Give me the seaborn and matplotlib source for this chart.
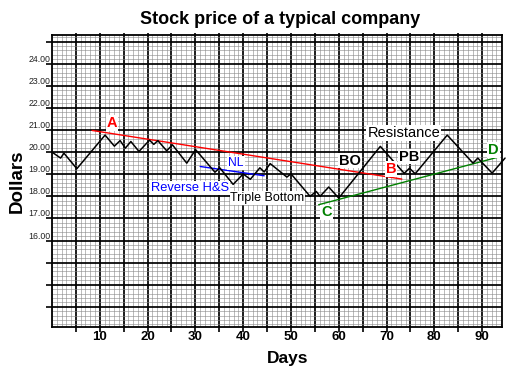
import matplotlib
matplotlib.use("Agg")
import matplotlib.pyplot as plt
from matplotlib.ticker import MultipleLocator
import seaborn as sns

# price path (day, dollars)
days = [0, 1.8, 2.5, 5.2, 11.1, 13.05, 14.25, 15.35, 16.5, 18.2, 20.4, 21.3, 22.15,
        24.0, 25.2, 28.2, 30.05, 34.1, 35.1, 37.9, 40.0, 41.5, 43.5, 44.4, 45.65,
        49.15, 50.0, 54.0, 55.3, 56.1, 57.9, 60.0, 68.7, 73.7, 74.8, 76.0, 82.7,
        88.1, 89.1, 92.1, 94.8]
price = [20.0, 19.73, 19.95, 19.25, 20.77, 20.27, 20.52, 20.18, 20.48, 20.03, 20.54, 20.35, 20.52,
         20.06, 20.33, 19.5, 20.11, 19.09, 19.29, 18.54, 19.01, 18.77, 19.29, 19.1, 19.48,
         18.87, 19.02, 18.0, 18.22, 18.0, 18.42, 17.92, 20.26, 19.04, 19.27, 19.02, 20.77,
         19.5, 19.73, 19.05, 19.73]

# trend lines
ab_days = [8.4, 73.2]
ab_price = [20.98, 18.78]
cd_days = [55.8, 93.5]
cd_price = [17.62, 19.78]
nl_days = [31.0, 44.4]
nl_price = [19.35, 18.93]

# annotations
note_text = ["A", "B", "C", "D", "BO", "PB", "Resistance", "Triple Bottom", "Reverse H&S", "NL"]
note_x = [12.5, 71.0, 57.4, 92.4, 62.4, 74.8, 73.6, 45.1, 28.9, 38.5]
note_y = [21.32, 19.23, 17.27, 20.11, 19.62, 19.8, 20.86, 17.94, 18.37, 19.5]
note_color = ["red", "red", "green", "green", "black", "black", "black", "black", "blue", "blue"]
note_bold = [True, True, True, True, True, True, False, False, False, False]
note_size = [10.5, 10.5, 10.5, 10.5, 10.5, 10.5, 10.5, 9, 9.3, 8.7]

# ticks
x_ticks = list(range(5, 95, 5))
x_labels = [str(t) if t % 10 == 0 else "" for t in x_ticks]
y_ticks = list(range(13, 26))
y_labels = ["%.2f" % t if 16 <= t <= 24 else "" for t in y_ticks]

sns.set_style("white")
plt.rcParams["font.family"] = ["Liberation Sans", "DejaVu Sans"]
plt.rcParams["text.color"] = "black"
plt.rcParams["axes.labelcolor"] = "black"
plt.rcParams["xtick.color"] = "black"
plt.rcParams["ytick.color"] = "black"

fig = plt.figure(figsize=(5.17, 3.77), dpi=100)
ax = fig.add_axes([0.1006, 0.1334, 0.8698, 0.7738])

sns.lineplot(x=days, y=price, ax=ax, color="black", lw=1.1, sort=False, clip_on=False, zorder=5)
sns.lineplot(x=ab_days, y=ab_price, ax=ax, color="red", lw=1.0, zorder=4)
sns.lineplot(x=cd_days, y=cd_price, ax=ax, color="green", lw=1.0, zorder=4)
sns.lineplot(x=nl_days, y=nl_price, ax=ax, color="blue", lw=1.0, zorder=4)

for t, x, y, c, b, s in zip(note_text, note_x, note_y, note_color, note_bold, note_size):
    ax.text(x, y, t, color=c, fontsize=s, fontweight="bold" if b else "normal",
            ha="center", va="center", zorder=6,
            bbox=dict(facecolor="white", edgecolor="none", pad=0.6))

ax.set_xlim(0, 94.1)
ax.set_ylim(12.1, 25.3)

ax.set_xticks(x_ticks)
ax.set_xticklabels(x_labels, fontsize=9.5, fontweight="bold")
ax.set_yticks(y_ticks)
ax.set_yticklabels(y_labels, fontsize=6.3, color="#222222", va="bottom")
ax.xaxis.set_minor_locator(MultipleLocator(1))
ax.yaxis.set_minor_locator(MultipleLocator(0.2))

ax.tick_params(axis="x", which="major", bottom=True, top=True, direction="out",
               length=3.6, width=1.2, pad=-0.5)
ax.tick_params(axis="y", which="major", left=True, direction="out",
               length=4, width=1.2, pad=-3)
ax.tick_params(which="minor", length=0)
for tk in ax.xaxis.get_major_ticks():
    tk.tick2line.set_markersize(1.5)

ax.set_axisbelow(True)
ax.grid(which="minor", color="#888888", lw=0.4)
ax.grid(which="major", color="black", lw=1.25)
for sp in ax.spines.values():
    sp.set_color("black")
    sp.set_linewidth(1.3)

ax.set_title("Stock price of a typical company", fontsize=13, fontweight="bold",
             x=0.507, y=1.054, va="center", pad=0)
ax.set_xlabel("Days", fontsize=12.5, fontweight="bold", va="center")
ax.xaxis.set_label_coords(0.525, -0.108)
ax.set_ylabel("Dollars", fontsize=13.5, fontweight="bold", va="center", ha="center")
ax.yaxis.set_label_coords(-0.0778, 0.4985)

fig.savefig("out.png", dpi=100)
